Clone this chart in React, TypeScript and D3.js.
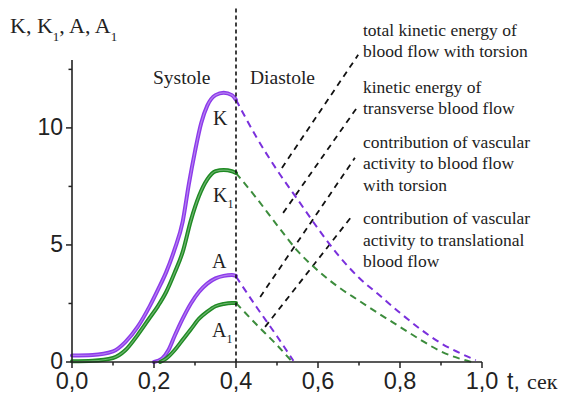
import React from "react";
import * as d3 from "d3";

// ---------- data ----------
const kSystoleT = [0, 0.05, 0.1, 0.13, 0.16, 0.19, 0.21, 0.23, 0.25, 0.27, 0.285, 0.3, 0.315, 0.33, 0.35, 0.37, 0.39, 0.4];
const kSystoleV = [0.28, 0.3, 0.45, 0.85, 1.5, 2.4, 3.1, 3.85, 4.8, 6.0, 7.6, 9.0, 10.2, 10.95, 11.4, 11.5, 11.4, 11.2];

const k1SystoleT = [0, 0.05, 0.1, 0.13, 0.16, 0.19, 0.21, 0.23, 0.25, 0.27, 0.29, 0.31, 0.33, 0.35, 0.37, 0.39, 0.4];
const k1SystoleV = [0.03, 0.05, 0.17, 0.5, 1.15, 1.9, 2.4, 3.0, 3.8, 4.7, 6.05, 7.1, 7.8, 8.15, 8.2, 8.15, 8.07];

const aSystoleT = [0.2, 0.22, 0.235, 0.25, 0.27, 0.29, 0.31, 0.33, 0.35, 0.37, 0.39, 0.4];
const aSystoleV = [0, 0.15, 0.5, 1.1, 1.85, 2.5, 3.0, 3.35, 3.57, 3.68, 3.72, 3.68];

const a1SystoleT = [0.215, 0.23, 0.25, 0.27, 0.29, 0.31, 0.33, 0.35, 0.37, 0.39, 0.4];
const a1SystoleV = [0, 0.15, 0.5, 0.95, 1.4, 1.85, 2.15, 2.38, 2.48, 2.52, 2.52];

const kDiastoleT = [0.4, 0.45, 0.5, 0.55, 0.6, 0.65, 0.7, 0.75, 0.8, 0.85, 0.9, 0.95, 0.985];
const kDiastoleV = [11.2, 9.6, 8.2, 6.95, 5.7, 4.55, 3.6, 2.85, 2.1, 1.4, 0.8, 0.35, 0.08];

const k1DiastoleT = [0.4, 0.45, 0.5, 0.55, 0.6, 0.65, 0.7, 0.75, 0.8, 0.85, 0.9, 0.95, 0.975];
const k1DiastoleV = [8.07, 7.0, 5.85, 4.75, 3.9, 3.2, 2.62, 2.05, 1.5, 0.95, 0.45, 0.12, 0];

const aDiastoleT = [0.4, 0.45, 0.5, 0.54];
const aDiastoleV = [3.65, 2.35, 1.1, 0.05];

const a1DiastoleT = [0.4, 0.45, 0.5, 0.535];
const a1DiastoleV = [2.52, 1.6, 0.72, 0.05];

const xMajorTicks = [0, 0.2, 0.4, 0.6, 0.8, 1.0];
const xMinorTicks = [0.1, 0.3, 0.5, 0.7, 0.9];
const yMajorTicks = [0, 5, 10];
const yMinorTicks = [2.5, 7.5, 12.5];

const phaseBoundary = 0.4;

// leader lines: [t0, v0, t1, v1]
const leaderLines = [
  [0.512, 8.29, 0.698, 13.12],
  [0.515, 6.37, 0.698, 10.94],
  [0.459, 2.78, 0.69, 8.72],
  [0.471, 1.5, 0.683, 6.24],
];

const annotationLines = [
  ["total kinetic energy of", "blood flow with torsion"],
  ["kinetic energy of", "transverse blood flow"],
  ["contribution of vascular", "activity to blood flow", "with torsion"],
  ["contribution of vascular", "activity to translational", "blood flow"],
];

// ---------- styles ----------
const W = 563, H = 394;
const PURPLE = "#8c3aea";
const GREEN = "#1e8a22";
const PURPLE_D = "#7a30dc";
const GREEN_D = "#3c8c3c";
const INK = "#222";
const SERIF = "'Liberation Serif', 'Times New Roman', serif";
const SANS = "'Liberation Sans', Arial, sans-serif";

const x = d3.scaleLinear().domain([0, 1]).range([72, 482]);
const y = d3.scaleLinear().domain([0, 12.9]).range([362, 60]);

const line = d3
  .line<[number, number]>()
  .x((d) => x(d[0]))
  .y((d) => y(d[1]))
  .curve(d3.curveMonotoneX);

const zip = (t: number[], v: number[]) => t.map((tt, i) => [tt, v[i]] as [number, number]);
const fmt = (v: number) => d3.format(".1f")(v).replace(".", ",");

function Solid({ t, v, color }: { t: number[]; v: number[]; color: string }) {
  const d = line(zip(t, v)) || "";
  return (
    <g>
      <path d={d} fill="none" stroke={color} strokeWidth={4} strokeLinecap="round" />
      <path d={d} fill="none" stroke="#ffffff" strokeOpacity={0.35} strokeWidth={1.2} />
    </g>
  );
}

function Dashed({ t, v, color }: { t: number[]; v: number[]; color: string }) {
  const d = line(zip(t, v)) || "";
  return <path d={d} fill="none" stroke={color} strokeWidth={2} strokeDasharray="7 5" />;
}

export default function App() {
  const annBaselines = [
    [36, 57],
    [93, 114],
    [148, 169, 191],
    [224, 246, 267],
  ];
  return (
    <svg
      width={W}
      height={H}
      viewBox={`0 0 ${W} ${H}`}
      style={{ position: "absolute", left: 0, top: 0, background: "#fff" }}
    >
      {/* leader lines */}
      {leaderLines.map((l, i) => (
        <line
          key={i}
          x1={x(l[0])}
          y1={y(l[1])}
          x2={x(l[2])}
          y2={y(l[3])}
          stroke="#111"
          strokeWidth={1.8}
          strokeDasharray="6 5"
        />
      ))}

      {/* curves */}
      <Dashed t={kDiastoleT} v={kDiastoleV} color={PURPLE_D} />
      <Dashed t={k1DiastoleT} v={k1DiastoleV} color={GREEN_D} />
      <Dashed t={aDiastoleT} v={aDiastoleV} color={PURPLE_D} />
      <Dashed t={a1DiastoleT} v={a1DiastoleV} color={GREEN_D} />
      <Solid t={kSystoleT} v={kSystoleV} color={PURPLE} />
      <Solid t={k1SystoleT} v={k1SystoleV} color={GREEN} />
      <Solid t={aSystoleT} v={aSystoleV} color={PURPLE} />
      <Solid t={a1SystoleT} v={a1SystoleV} color={GREEN} />

      {/* phase boundary */}
      <line
        x1={x(phaseBoundary)}
        x2={x(phaseBoundary)}
        y1={y(15.1)}
        y2={y(0)}
        stroke="#111"
        strokeWidth={1.6}
        strokeDasharray="4 3"
      />

      {/* axes */}
      <line x1={x(0)} x2={x(1)} y1={y(0)} y2={y(0)} stroke={INK} strokeWidth={1.6} />
      <line x1={x(0)} x2={x(0)} y1={y(0)} y2={y(12.9)} stroke={INK} strokeWidth={1.6} />
      {xMajorTicks.map((t) => (
        <g key={"xm" + t}>
          <line x1={x(t)} x2={x(t)} y1={y(0)} y2={y(0) + 6} stroke={INK} strokeWidth={1.5} />
          <text x={x(t)} y={389} textAnchor="middle" fontFamily={SANS} fontSize={23.5} fill={INK}>
            {fmt(t)}
          </text>
        </g>
      ))}
      {xMinorTicks.map((t) => (
        <line key={"xn" + t} x1={x(t)} x2={x(t)} y1={y(0)} y2={y(0) + 3.5} stroke={INK} strokeWidth={1.5} />
      ))}
      {yMajorTicks.map((v) => (
        <g key={"ym" + v}>
          <line x1={x(0) - 6} x2={x(0)} y1={y(v)} y2={y(v)} stroke={INK} strokeWidth={1.5} />
          <text x={63} y={y(v) + 7} textAnchor="end" fontFamily={SANS} fontSize={23} fill={INK}>
            {v}
          </text>
        </g>
      ))}
      {yMinorTicks.map((v) => (
        <line key={"yn" + v} x1={x(0) - 3.5} x2={x(0)} y1={y(v)} y2={y(v)} stroke={INK} strokeWidth={1.5} />
      ))}

      {/* axis titles */}
      <text x={10} y={33} fontFamily={SERIF} fontSize={22} fill={INK}>
        K, K<tspan fontSize={13} dy={8}>1</tspan>
        <tspan dy={-8}>, A, A</tspan>
        <tspan fontSize={13} dy={8}>1</tspan>
      </text>
      <text x={507} y={389} fontFamily={SANS} fontSize={23} fill={INK}>
        t,
      </text>
      <text x={527} y={389} fontFamily={SERIF} fontSize={22} fill={INK}>
        сек
      </text>

      {/* phase labels */}
      <text x={153} y={84} fontFamily={SERIF} fontSize={19.5} fill={INK}>
        Systole
      </text>
      <text x={250} y={84} fontFamily={SERIF} fontSize={19.5} fill={INK}>
        Diastole
      </text>

      {/* curve labels */}
      <text x={213} y={125} fontFamily={SERIF} fontSize={20} fill={INK}>
        K
      </text>
      <text x={213} y={202} fontFamily={SERIF} fontSize={20} fill={INK}>
        K<tspan fontSize={12} dy={6}>1</tspan>
      </text>
      <text x={212} y={268} fontFamily={SERIF} fontSize={20} fill={INK}>
        A
      </text>
      <text x={212} y={337} fontFamily={SERIF} fontSize={20} fill={INK}>
        A<tspan fontSize={12} dy={6}>1</tspan>
      </text>

      {/* annotations */}
      {annotationLines.map((block, bi) =>
        block.map((s, li) => (
          <text
            key={bi + "-" + li}
            x={363}
            y={annBaselines[bi][li]}
            fontFamily={SERIF}
            fontSize={17.5}
            fill={INK}
          >
            {s}
          </text>
        ))
      )}
    </svg>
  );
}
